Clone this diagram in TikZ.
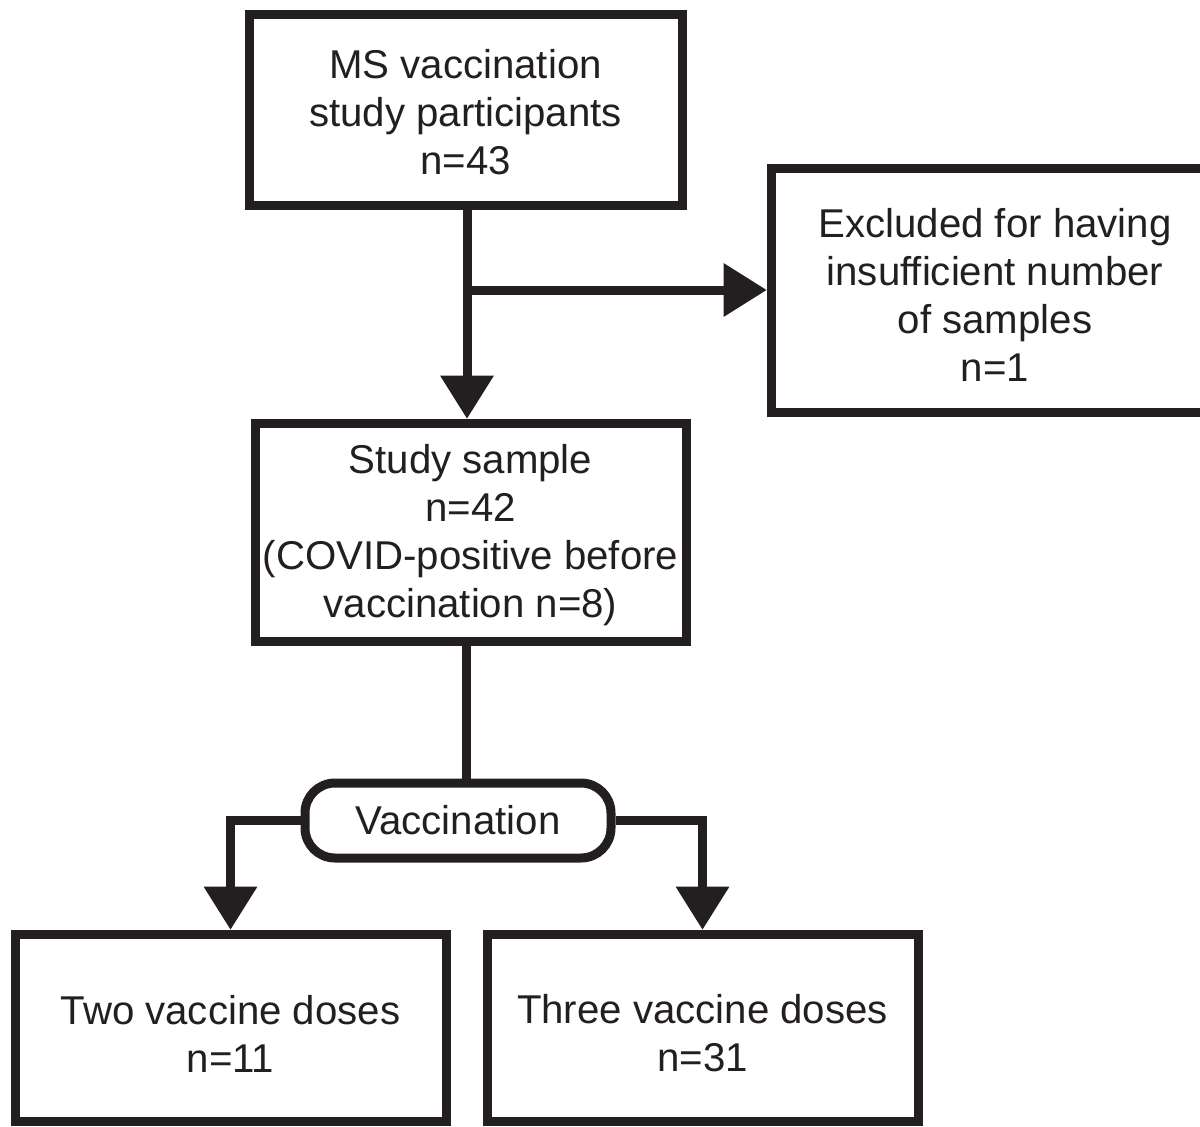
\documentclass[tikz,border=0pt]{standalone}
\usepackage{fontspec}
\setmainfont{Liberation Sans}
\usetikzlibrary{arrows.meta}
\definecolor{ink}{RGB}{35,31,32}
\begin{document}
\begin{tikzpicture}[x=0.5pt,y=-0.5pt,
  every node/.style={font=\fontsize{20.1pt}{24pt}\selectfont, text=ink, align=center, inner sep=0pt},
  flowbox/.style={draw=ink, line width=4.5pt, fill=white},
  roundbox/.style={draw=ink, line width=4.5pt, fill=white, rounded corners=15pt},
  conn/.style={draw=ink, line width=4.5pt},
  arr/.style={conn, -{Triangle[length=21.5pt,width=27pt,line width=0pt]}}]
\useasboundingbox (0,0) rectangle (1200,1126);
\node[flowbox, minimum width=216.5pt, minimum height=95.5pt] (box1) at (465.5,109.5)
  {\rule{0pt}{17.6pt}MS vaccination\\study participants\\n=43};
\node[flowbox, minimum width=224pt, minimum height=122pt] (excl) at (995,290)
  {\rule{0pt}{19.4pt}Excluded for having\\insufficient number\\of samples\\n=1};
\node[flowbox, minimum width=215.5pt, minimum height=109pt] (box2) at (470.5,532)
  {\rule{0pt}{17.6pt}Study sample\\n=42\\(COVID-positive before\\vaccination n=8)};
\node[roundbox, minimum width=153pt, minimum height=37.5pt] (vacc) at (458,820.5)
  {Vaccination};
\node[flowbox, minimum width=215.5pt, minimum height=93.5pt] (box3) at (230.5,1027.5)
  {\rule{0pt}{20.6pt}Two vaccine doses\\n=11};
\node[flowbox, minimum width=215.5pt, minimum height=93.5pt] (box4) at (702.5,1027.5)
  {\rule{0pt}{20.6pt}Three vaccine doses\\n=31};
\coordinate (top) at (467,205);
\coordinate (mid) at (466,641);
\draw[arr] (box1.south -| top) -- (top |- box2.north);
\draw[arr] (top |- excl.west) -- (excl.west);
\draw[conn] (box2.south -| mid) -- (mid |- vacc.north);
\draw[arr] (vacc.west) -| (box3.north);
\draw[arr] (vacc.east) -| (box4.north);
\end{tikzpicture}
\end{document}
